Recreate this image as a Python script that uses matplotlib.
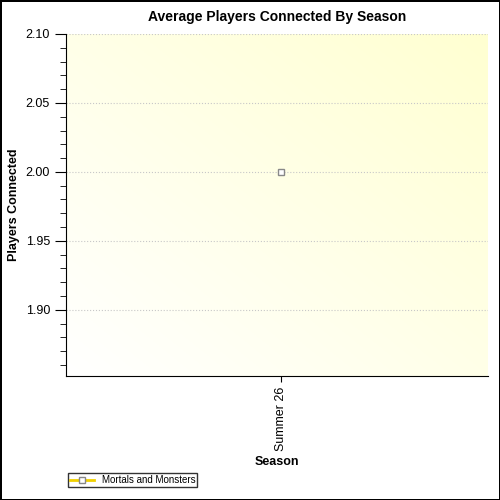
import matplotlib
matplotlib.use("Agg")
import matplotlib.pyplot as plt
import numpy as np
from matplotlib.ticker import MultipleLocator, FormatStrFormatter

plt.rcParams['font.family'] = ['Liberation Sans', 'DejaVu Sans']

categories = ["Summer 26"]
values = [2.00]
series_name = "Mortals and Monsters"

fig = plt.figure(figsize=(5, 5), dpi=100)
fig.patch.set_edgecolor("black"); fig.patch.set_linewidth(2)
ax = fig.add_axes([66/500, 1-376/500, 422/500, 342/500])

g = np.linspace(0, 1, 200)
X, Y = np.meshgrid(g, g)
t = (X + Y) / 2
white = np.array([1, 1, 1]); yellow = np.array([1, 1, 0.82])
img = white[None, None, :] * (1 - t[..., None]) + yellow[None, None, :] * t[..., None]
ax.imshow(img, extent=[0, 1, 0, 1], transform=ax.transAxes, origin="lower", aspect="auto", zorder=0)

x = np.arange(len(categories))
ax.plot(x, values, color="#f0d000", lw=2, marker="s", ms=5, mfc="white", mec="#888888", zorder=3, label=series_name)
ax.set_xlim(-0.52, 0.5)
ax.set_ylim(1.852, 2.10)
ax.set_xticks(x)
ax.set_xticklabels(categories, rotation=90, fontsize=9)
ax.yaxis.set_major_locator(MultipleLocator(0.05))
ax.yaxis.set_minor_locator(MultipleLocator(0.01))
ax.yaxis.set_major_formatter(FormatStrFormatter("%.2f"))
ax.tick_params(axis="y", which="major", length=8, labelsize=9)
ax.tick_params(axis="y", which="minor", length=4)
ax.tick_params(axis="x", length=4)
ax.grid(True, axis="y", which="major", color="#c8c8c8", ls=":", lw=0.8)
for s in ["top", "right"]:
    ax.spines[s].set_visible(False)
ax.set_title("Average Players Connected By Season", fontsize=10, fontweight="bold", pad=9)
ax.set_xlabel("Season", fontsize=9, fontweight="bold")
ax.set_ylabel("Players Connected", fontsize=9, fontweight="bold")
leg = fig.legend(loc="lower left", bbox_to_anchor=(63/500, 8/500), fontsize=7, frameon=True,
                 fancybox=False, edgecolor="black", borderpad=0.2, handlelength=2.5)
leg.get_frame().set_linewidth(1)
fig.savefig("out.png", dpi=100, edgecolor=fig.get_edgecolor())
